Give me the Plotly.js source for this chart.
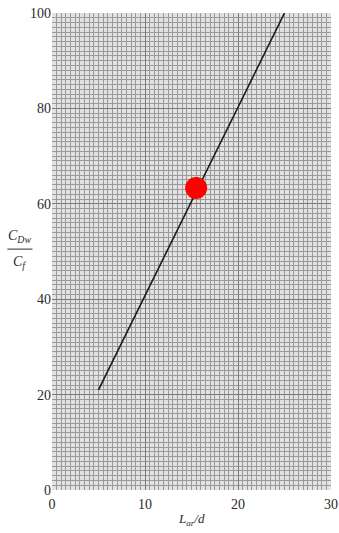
<!DOCTYPE html>
<html>
<head>
<meta charset="utf-8">
<script src="https://cdn.plot.ly/plotly-3.0.1.min.js"></script>
<style>html,body{margin:0;padding:0;background:#fff;}#chart{width:339px;height:533px;}</style>
</head>
<body>
<div id="chart"></div>
<script>
var lineX = [5, 25];
var lineY = [21, 100];
var pointX = [15.5];
var pointY = [63.3];
var xTicks = [0, 10, 20, 30];
var yTicks = [0, 20, 40, 60, 80, 100];

var serif = "Liberation Serif, DejaVu Serif, serif";

var traces = [
  {x: lineX, y: lineY, mode: "lines", line: {color: "#1a1a1a", width: 1.6}, hoverinfo: "skip"},
  {x: pointX, y: pointY, mode: "markers", marker: {color: "#ff0000", size: 22}, hoverinfo: "skip"}
];

var layout = {
  width: 339, height: 533,
  margin: {l: 52, r: 8, t: 13, b: 43},
  paper_bgcolor: "#ffffff",
  plot_bgcolor: "#e2e2e2",
  showlegend: false,
  xaxis: {
    range: [0, 30], tickvals: xTicks, ticktext: xTicks.map(String),
    showgrid: true, gridcolor: "#7a7a7a", gridwidth: 1,
    minor: {dtick: 0.5, showgrid: true, gridcolor: "#9a9a9a", gridwidth: 1},
    zeroline: false, showline: false, ticks: "", automargin: false,
    ticklabeloverflow: "allow", ticklabelstandoff: 4,
    tickfont: {family: serif, size: 14, color: "#2a2a2a"}
  },
  yaxis: {
    range: [0, 100], tickvals: yTicks, ticktext: yTicks.map(String),
    showgrid: true, gridcolor: "#7a7a7a", gridwidth: 1,
    minor: {dtick: 1, showgrid: true, gridcolor: "#9a9a9a", gridwidth: 1},
    zeroline: false, showline: false, ticks: "", automargin: false,
    tickfont: {family: serif, size: 14, color: "#2a2a2a"}
  },
  annotations: [
    {xref: "paper", yref: "paper", x: 0.5, y: -0.062, xanchor: "center", yanchor: "middle",
     text: "<i>L<sub>ar</sub>/d</i>", showarrow: false, font: {family: serif, size: 13, color: "#2a2a2a"}},
    {xref: "paper", yref: "paper", x: -0.115, y: 0.51, xanchor: "center", yanchor: "bottom",
     text: "<i>C<sub>Dw</sub></i>", showarrow: false, font: {family: serif, size: 14, color: "#2a2a2a"}},
    {xref: "paper", yref: "paper", x: -0.115, y: 0.50, xanchor: "center", yanchor: "top",
     text: "<i>C<sub>f</sub></i>", showarrow: false, font: {family: serif, size: 14, color: "#2a2a2a"}}
  ],
  shapes: [
    {type: "line", xref: "paper", yref: "paper", x0: -0.16, x1: -0.07, y0: 0.505, y1: 0.505,
     line: {color: "#2a2a2a", width: 1}}
  ]
};

Plotly.newPlot("chart", traces, layout, {displayModeBar: false, staticPlot: true});
</script>
</body>
</html>
